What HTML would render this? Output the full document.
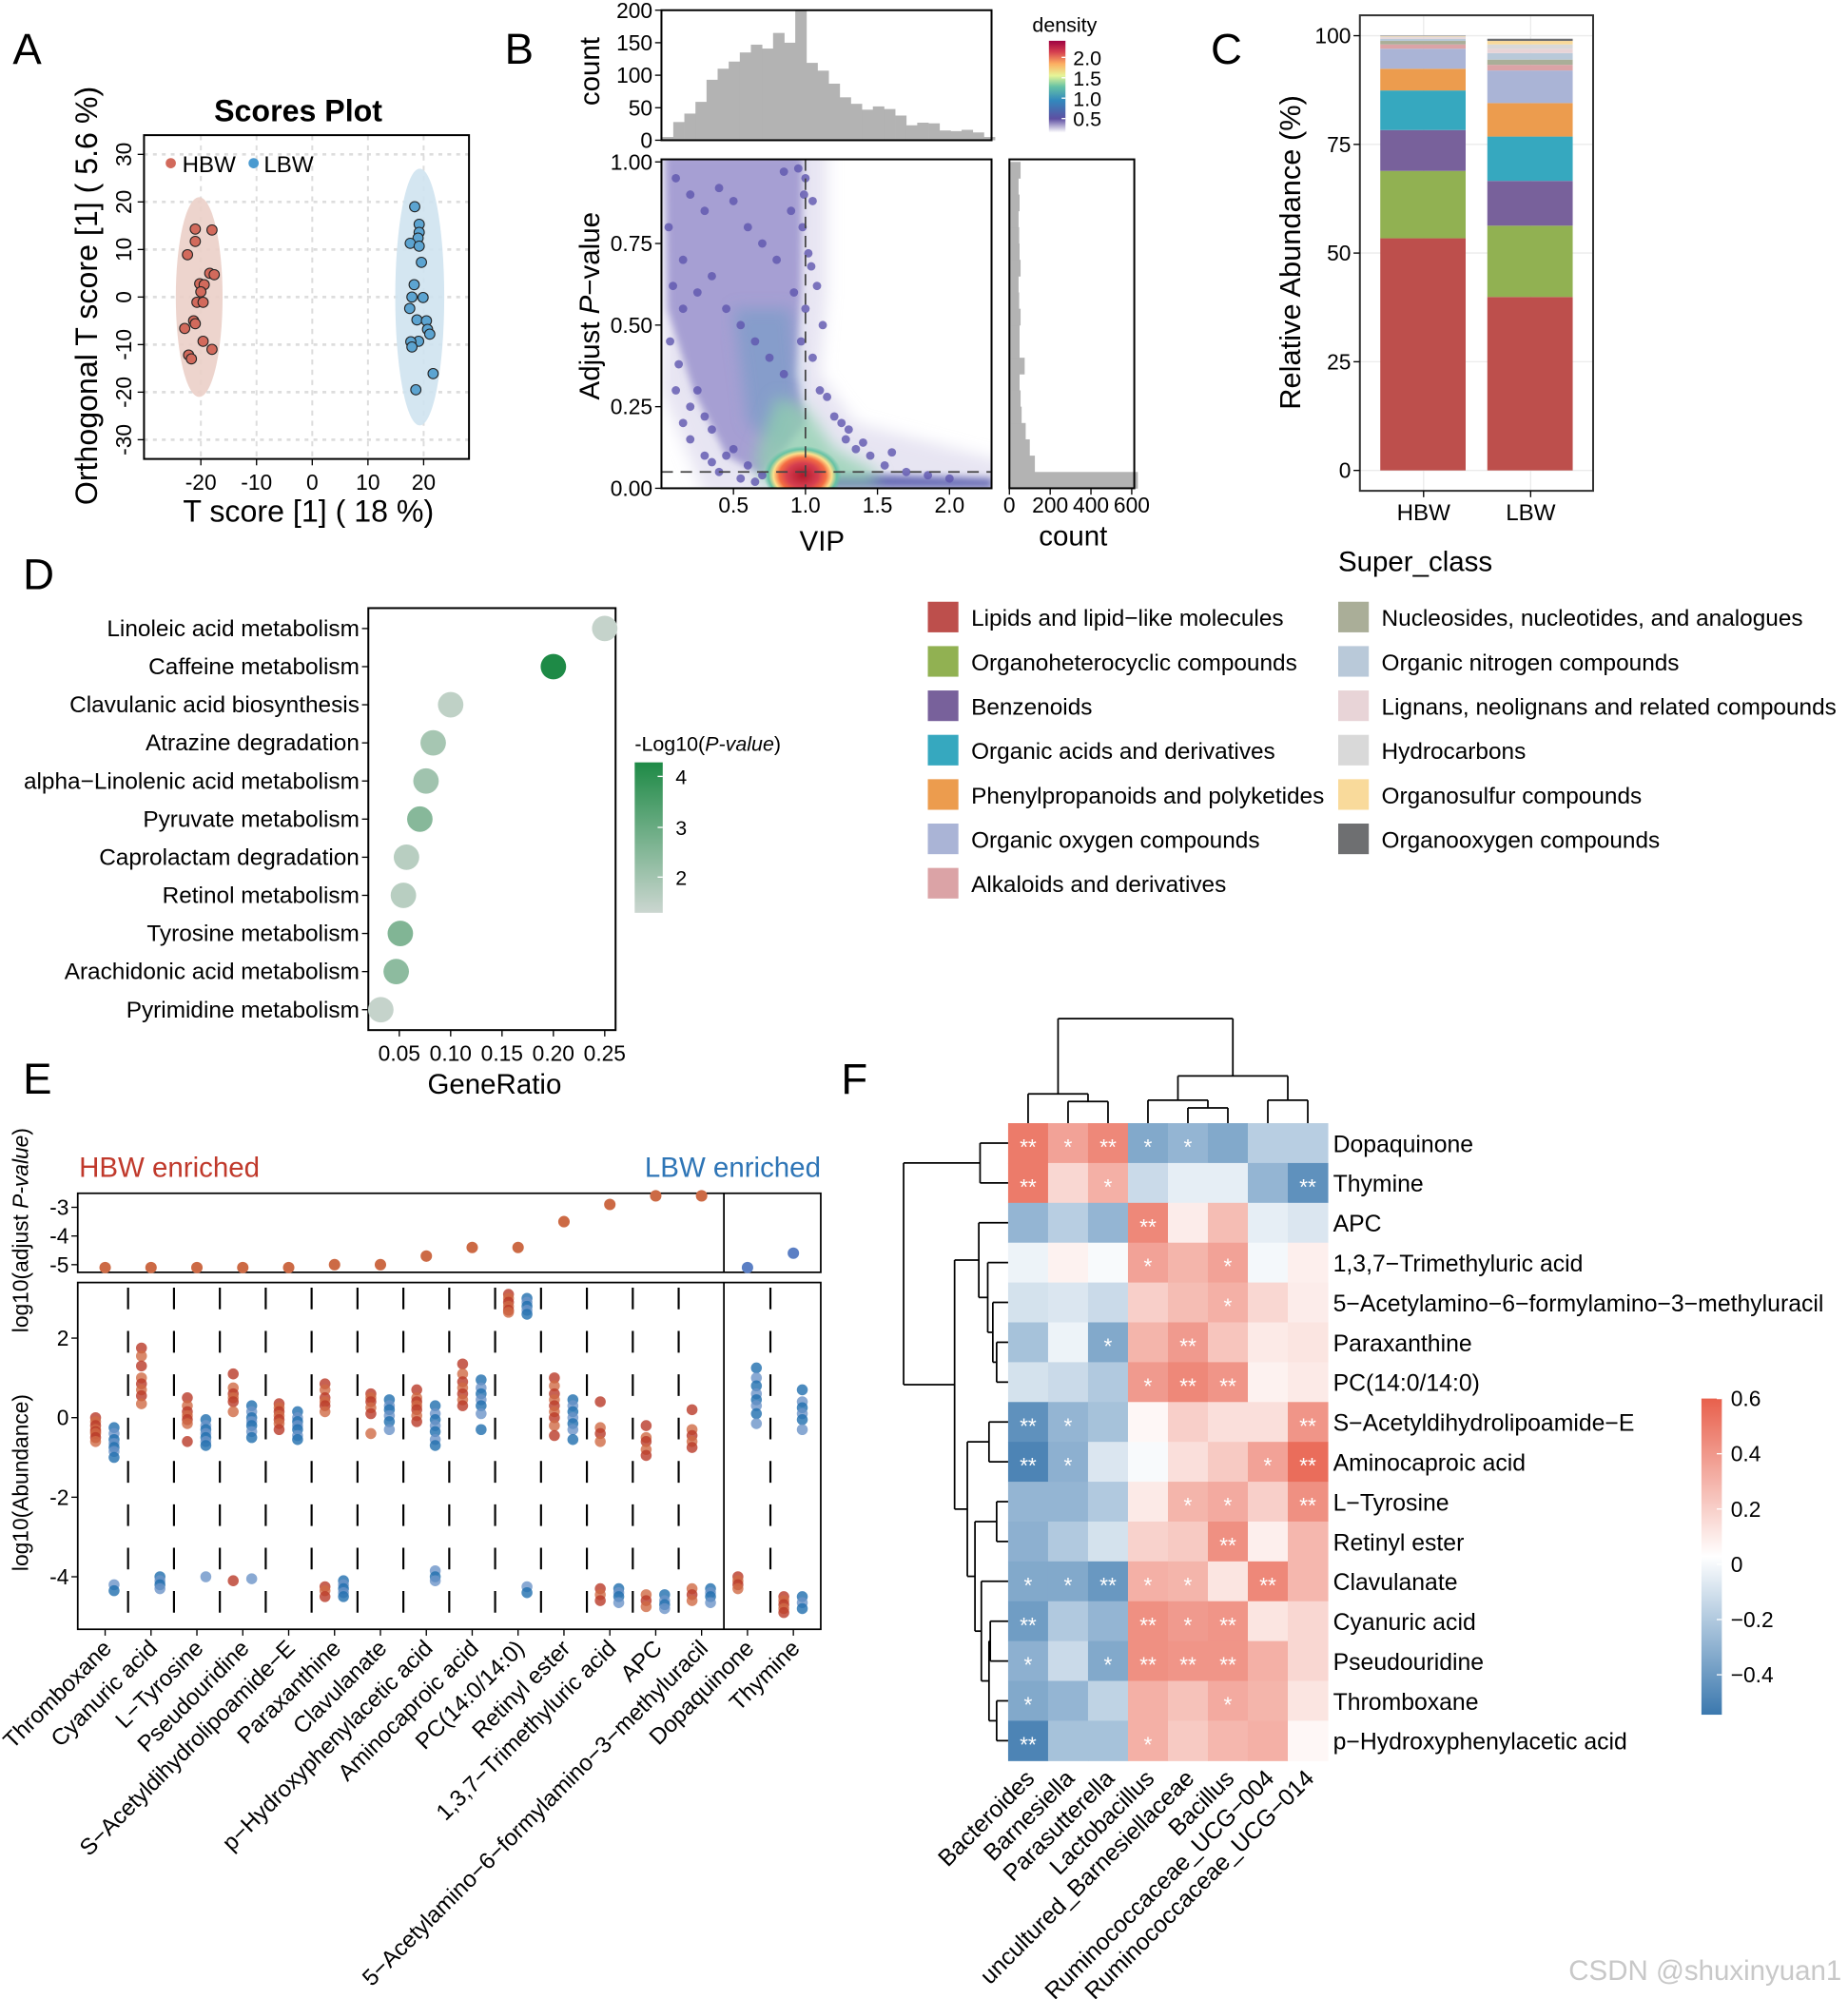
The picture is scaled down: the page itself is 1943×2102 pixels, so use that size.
<!DOCTYPE html>
<html><head><meta charset="utf-8">
<style>
html,body{margin:0;padding:0;background:#fff;}
svg{display:block;}
text{font-family:"Liberation Sans",Arial,sans-serif;}
</style></head>
<body>
<svg id="fig" xmlns="http://www.w3.org/2000/svg" width="1943" height="2102" viewBox="0 0 1450 1568" preserveAspectRatio="none">
<defs>
<filter id="blur6" x="-20%" y="-20%" width="140%" height="140%"><feGaussianBlur stdDeviation="6"/></filter>
<filter id="blur3"><feGaussianBlur stdDeviation="3"/></filter>
<linearGradient id="densGrad" x1="0" y1="1" x2="0" y2="0">
<stop offset="0" stop-color="#ffffff"/><stop offset="0.15" stop-color="#5E4FA2"/><stop offset="0.35" stop-color="#3288BD"/><stop offset="0.5" stop-color="#66C2A5"/><stop offset="0.62" stop-color="#E6F598"/><stop offset="0.75" stop-color="#FDAE61"/><stop offset="0.88" stop-color="#D53E4F"/><stop offset="1" stop-color="#9E0142"/></linearGradient>
<linearGradient id="goGrad" x1="0" y1="1" x2="0" y2="0"><stop offset="0" stop-color="#CBD6D0"/><stop offset="1" stop-color="#1E8A46"/></linearGradient>
<linearGradient id="corGrad" x1="0" y1="1" x2="0" y2="0"><stop offset="0" stop-color="#3B78AE"/><stop offset="0.5" stop-color="#ffffff"/><stop offset="1" stop-color="#E8604C"/></linearGradient>
<radialGradient id="hot" cx="0.5" cy="0.5" r="0.5">
<stop offset="0" stop-color="#B2182B"/><stop offset="0.4" stop-color="#D53E4F"/><stop offset="0.6" stop-color="#F46D43"/><stop offset="0.75" stop-color="#FEE08B"/><stop offset="0.88" stop-color="#66C2A5"/><stop offset="1" stop-color="#66C2A5" stop-opacity="0"/></radialGradient>
</defs>
<g id="root"></g>
</svg>
<script>
// ---------- DATA ----------
// Panel A
const hbwX=[-21,-18,-21,-22.4,-18.4,-17.6,-20.2,-19.4,-20,-20.7,-19.6,-21.3,-21,-22.9,-19.6,-18,-22.2,-21.7];
const hbwY=[14.3,14.1,11.7,8.9,5,4.7,2.8,2.6,1.1,-1.1,-1.1,-5,-5.6,-6.6,-9.3,-11,-12.2,-13];
const lbwX=[18.4,19.2,19.2,19,17.6,19.2,19.6,18.3,19.9,17.9,17.5,18.8,20.5,20.7,21.1,19.1,17.7,17.9,21.7,18.6];
const lbwY=[19,15.3,13.6,12.4,11.3,10.7,7.3,2.6,-0.1,0,-2.4,-4.8,-5,-6.8,-7.8,-9.3,-9.4,-10.5,-16.1,-19.5];
const aTicks=[-20,-10,0,10,20];
const aYTicks=[-30,-20,-10,0,10,20,30];
// Panel B
const vipHist=[5,28,41,59,93,110,121,135,147,141,165,150,200,119,107,87,66,56,47,52,48,38,23,27,26,15,14,16,12,5];
const pHist=[630,125,100,80,60,55,50,75,50,50,55,48,45,55,50,48,45,50,45,55];
const ptVip=[0.95,1.0,1.05,0.98,1.02,0.92,1.0,0.97,1.05,1.1,1.15,1.2,1.25,1.3,1.35,1.45,1.55,1.7,1.85,2.0,0.1,0.15,0.2,0.3,0.35,0.4,0.06,0.08,0.12,0.5,0.3,0.25,1.08,1.12,0.99,1.04,0.6,0.7,0.45,0.2,0.55,0.85,0.9,0.15,0.05,0.35,0.65,1.28,1.4,1.6,0.1,0.2,0.3,0.4,0.5,0.6,0.7,0.8,0.15,0.25,0.35,0.45,0.55,0.65,0.75,0.85];
const ptP=[0.98,0.95,0.88,0.8,0.72,0.6,0.55,0.45,0.4,0.3,0.28,0.22,0.2,0.18,0.12,0.1,0.07,0.05,0.04,0.03,0.3,0.2,0.15,0.1,0.08,0.05,0.45,0.62,0.38,0.12,0.22,0.3,0.62,0.5,0.9,0.68,0.07,0.04,0.1,0.25,0.03,0.97,0.85,0.55,0.8,0.18,0.02,0.15,0.14,0.11,0.95,0.9,0.85,0.92,0.88,0.8,0.75,0.7,0.7,0.6,0.65,0.55,0.5,0.45,0.4,0.35];
// Panel C
const classNames=["Lipids and lipid−like molecules","Organoheterocyclic compounds","Benzenoids","Organic acids and derivatives","Phenylpropanoids and polyketides","Organic oxygen compounds","Alkaloids and derivatives","Nucleosides, nucleotides, and analogues","Organic nitrogen compounds","Lignans, neolignans and related compounds","Hydrocarbons","Organosulfur compounds","Organooxygen compounds"];
const classColors=["#BD4F4C","#91B152","#78619B","#36A8BF","#EC9C4E","#AAB4D6","#DBA3A6","#AAAE98","#B9C9D9","#E8D4D7","#D9D9D9","#F9DA9B","#6E6F71"];
const hbwPct=[53.4,15.5,9.4,9.1,5,4.6,1,0.8,0.5,0.3,0.2,0.1,0.1];
const lbwPct=[39.9,16.4,10.3,10.2,7.7,7.5,1.3,1.2,1.5,1,1,0.8,0.5];
const cTicks=[0,25,50,75,100];
// Panel D
const pathways=["Linoleic acid metabolism","Caffeine metabolism","Clavulanic acid biosynthesis","Atrazine degradation","alpha−Linolenic acid metabolism","Pyruvate metabolism","Caprolactam degradation","Retinol metabolism","Tyrosine metabolism","Arachidonic acid metabolism","Pyrimidine metabolism"];
const geneRatio=[0.25,0.2,0.1,0.083,0.076,0.07,0.057,0.054,0.051,0.047,0.032];
const logP=[1.6,4.3,1.7,2.1,2.2,2.6,1.8,1.8,2.7,2.5,1.6];
const dTicks=[0.05,0.10,0.15,0.20,0.25];
// Panel E
const metabs=["Thromboxane","Cyanuric acid","L−Tyrosine","Pseudouridine","S−Acetyldihydrolipoamide−E","Paraxanthine","Clavulanate","p−Hydroxyphenylacetic acid","Aminocaproic acid","PC(14:0/14:0)","Retinyl ester","1,3,7−Trimethyluric acid","APC","5−Acetylamino−6−formylamino−3−methyluracil","Dopaquinone","Thymine"];
const adjP=[-5.1,-5.1,-5.1,-5.1,-5.1,-5,-5,-4.7,-4.4,-4.4,-3.5,-2.9,-2.6,-2.6,-5.1,-4.6];
const adjGroup=[0,0,0,0,0,0,0,0,0,0,0,0,0,0,1,1];
const redVals=[[0,-0.1,-0.2,-0.3,-0.35,-0.4,-0.5,-0.6],[1.75,1.55,1.3,1.0,0.85,0.7,0.55,0.35],[0.5,0.3,0.15,0.05,-0.05,-0.15,-0.6],[1.1,0.75,0.6,0.5,0.4,0.15,-4.1],[0.35,0.25,0.15,0.05,-0.05,-0.15,-0.3],[0.85,0.7,0.5,0.4,0.3,0.15,-4.25,-4.35,-4.5],[0.6,0.5,0.4,0.25,0.1,-0.4],[0.7,0.5,0.4,0.3,0.2,0.05,-0.1],[1.35,1.1,0.9,0.75,0.6,0.45,0.3],[3.1,3.0,2.9,2.8,2.7,2.65],[1.0,0.8,0.6,0.45,0.3,0.15,0,-0.2,-0.45],[0.4,-0.25,-0.4,-0.6,-4.3,-4.45,-4.6],[-0.2,-0.5,-0.6,-0.8,-0.95,-4.45,-4.6,-4.75],[0.2,-0.3,-0.45,-0.6,-0.75,-4.3,-4.45,-4.6],[-4.0,-4.1,-4.2,-4.3],[-4.5,-4.6,-4.7,-4.8,-4.9]];
const blueVals=[[-0.25,-0.4,-0.55,-0.65,-0.75,-0.85,-1.0,-4.2,-4.35],[-4.0,-4.1,-4.2,-4.3],[-0.05,-0.2,-0.3,-0.4,-0.5,-0.6,-0.7,-4.0],[0.3,0.15,0,-0.1,-0.2,-0.35,-0.5,-4.05],[0.15,0,-0.1,-0.2,-0.3,-0.45,-0.55],[-4.1,-4.2,-4.3,-4.4,-4.5],[0.45,0.3,0.2,0.05,-0.1,-0.3],[0.3,0.1,-0.05,-0.2,-0.35,-0.55,-0.7,-3.85,-4.0,-4.1],[0.95,0.75,0.6,0.45,0.3,0.1,-0.3],[3.0,2.9,2.8,2.7,2.6,-4.25,-4.4],[0.45,0.3,0.15,0,-0.15,-0.3,-0.55],[-4.3,-4.4,-4.5,-4.65],[-4.45,-4.6,-4.7,-4.8],[-4.3,-4.4,-4.5,-4.65],[1.25,1.0,0.8,0.6,0.45,0.3,0.1,-0.15],[0.7,0.4,0.25,0.1,-0.05,-0.3,-4.5,-4.65,-4.8]];
const eTopTicks=[-3,-4,-5];
const eBotTicks=[2,0,-2,-4];
// Panel F
const fRows=["Dopaquinone","Thymine","APC","1,3,7−Trimethyluric acid","5−Acetylamino−6−formylamino−3−methyluracil","Paraxanthine","PC(14:0/14:0)","S−Acetyldihydrolipoamide−E","Aminocaproic acid","L−Tyrosine","Retinyl ester","Clavulanate","Cyanuric acid","Pseudouridine","Thromboxane","p−Hydroxyphenylacetic acid"];
const fCols=["Bacteroides","Barnesiella","Parasutterella","Lactobacillus","uncultured_Barnesiellaceae","Bacillus","Ruminococcaceae_UCG−004","Ruminococcaceae_UCG−014"];
const corr=[[0.5,0.35,0.45,-0.35,-0.3,-0.35,-0.2,-0.2],[0.5,0.15,0.3,-0.15,-0.07,-0.07,-0.3,-0.45],[-0.3,-0.2,-0.3,0.45,0.07,0.25,-0.07,-0.1],[-0.05,0.05,-0.02,0.35,0.28,0.35,-0.03,0.06],[-0.12,-0.1,-0.15,0.18,0.25,0.3,0.15,0.07],[-0.25,-0.05,-0.35,0.28,0.38,0.22,0.08,0.1],[-0.12,-0.15,-0.22,0.38,0.45,0.4,0.05,0.08],[-0.45,-0.3,-0.25,0.03,0.18,0.12,0.12,0.4],[-0.5,-0.32,-0.1,-0.02,0.12,0.2,0.35,0.55],[-0.3,-0.3,-0.22,0.08,0.28,0.32,0.18,0.42],[-0.32,-0.22,-0.12,0.17,0.2,0.42,0.06,0.27],[-0.35,-0.35,-0.42,0.3,0.28,0.1,0.45,0.27],[-0.4,-0.22,-0.3,0.42,0.38,0.4,0.1,0.15],[-0.32,-0.15,-0.35,0.42,0.4,0.4,0.3,0.15],[-0.35,-0.3,-0.18,0.3,0.23,0.32,0.28,0.1],[-0.5,-0.25,-0.25,0.3,0.2,0.27,0.3,0.03]];
const stars=[["**","*","**","*","*","","",""],["**","","*","","","","","**"],["","","","**","","","",""],["","","","*","","*","",""],["","","","","","*","",""],["","","*","","**","","",""],["","","","*","**","**","",""],["**","*","","","","","","**"],["**","*","","","","","*","**"],["","","","","*","*","","**"],["","","","","","**","",""],["*","*","**","*","*","","**",""],["**","","","**","*","**","",""],["*","","*","**","**","**","",""],["*","","","","","*","",""],["**","","","*","","","",""]];
const corTicks=[0.6,0.4,0.2,0,-0.2,-0.4];

// ---------- helpers ----------
const NS="http://www.w3.org/2000/svg";
const root=document.getElementById('root');
function mk(tag,attrs,parent,txt){const e=document.createElementNS(NS,tag);for(const k in attrs)e.setAttribute(k,attrs[k]);if(txt!==undefined)e.textContent=txt;(parent||root).appendChild(e);return e;}
function grp(name){const g=mk('g',{});return g;}
function T(g,x,y,s,size,opt){opt=opt||{};const a={x:x,y:y,'font-size':size,fill:opt.fill||'#000'};if(opt.anchor)a['text-anchor']=opt.anchor;if(opt.rot!==undefined)a.transform=`rotate(${opt.rot} ${x} ${y})`;if(opt.weight)a['font-weight']=opt.weight;if(opt.style)a['font-style']=opt.style;const t=mk('text',a,g,s);return t;}
function L(g,x1,y1,x2,y2,st,w,dash){const a={x1:x1,y1:y1,x2:x2,y2:y2,stroke:st||'#000','stroke-width':w||1};if(dash)a['stroke-dasharray']=dash;return mk('line',a,g);}
function R(g,x,y,w,h,fill,stroke,sw){return mk('rect',{x:x,y:y,width:w,height:h,fill:fill||'none',stroke:stroke||'none','stroke-width':sw||1},g);}
function lerpC(a,b,t){const p=s=>[1,3,5].map(i=>parseInt(s.substr(i,2),16));const A=p(a),B=p(b);return 'rgb('+A.map((v,i)=>Math.round(v+(B[i]-v)*t)).join(',')+')';}

// ---------- Panel labels ----------
const pl=grp('panel-labels');
[["A",10,50],["B",396,50],["C",950,50],["D",18,462],["E",18,858],["F",660,858]].forEach(d=>T(pl,d[1],d[2],d[0],34,{name:'panel-label-'+d[0]}));

// ---------- Panel A ----------
(function(){
const g=grp('panel-a-scores-plot');
const xA=v=>245+v*4.37, yA=v=>233-v*3.73;
T(g,234,95,"Scores Plot",24,{anchor:'middle',weight:'bold',name:'a-title'});
aTicks.forEach(v=>L(g,xA(v),106,xA(v),360,'#ddd',1.5,'4,4'));
aYTicks.forEach(v=>L(g,113,yA(v),368,yA(v),'#ddd',2,'3,4'));
mk('ellipse',{cx:xA(-20.3),cy:yA(0),rx:4.2*4.37,ry:21*3.73,fill:'#EBCFC8','fill-opacity':0.9},g);
mk('ellipse',{cx:xA(19.3),cy:yA(0),rx:4.4*4.37,ry:27*3.73,fill:'#CFE3F0','fill-opacity':0.9},g);
hbwX.forEach((x,i)=>{const c=mk('circle',{cx:xA(x),cy:yA(hbwY[i]),r:4,fill:'#D26A5C',stroke:'#222','stroke-width':0.8},g);});
lbwX.forEach((x,i)=>{const c=mk('circle',{cx:xA(x),cy:yA(lbwY[i]),r:4,fill:'#5CA4D1',stroke:'#222','stroke-width':0.8},g);});
R(g,113,106,255,254,'none','#000',1.5);
aTicks.forEach(v=>{L(g,xA(v),360,xA(v),365);T(g,xA(v),384,String(v),17,{anchor:'middle',name:'a-x-tick'});});
aYTicks.forEach(v=>{L(g,108,yA(v),113,yA(v));T(g,103,yA(v),String(v),17,{anchor:'middle',rot:-90,name:'a-y-tick'});});
mk('circle',{cx:134,cy:128,r:4,fill:'#D26A5C'},g);T(g,143,135,"HBW",18,{name:'legend-hbw'});
mk('circle',{cx:199,cy:128,r:4,fill:'#4A9AD0'},g);T(g,207,135,"LBW",18,{name:'legend-lbw'});
T(g,242,409,"T score [1] ( 18 %)",24,{anchor:'middle',name:'a-x-title'});
T(g,76,232,"Orthogonal T score [1] ( 5.6 %)",24,{anchor:'middle',rot:-90,name:'a-y-title'});
})();

// ---------- Panel B ----------
(function(){
const g=grp('panel-b-vip-volcano');
const xB=v=>519+v*113, yB=p=>383-p*256, yH=c=>110-c*0.51, xR=c=>792+c*0.16;
const bw=0.077, b0=0.005;
vipHist.forEach((c,i)=>{const r=R(g,xB(b0+i*bw),yH(c),bw*113+0.3,110-yH(c),'#B3B3B3');});
R(g,519,8,259,102,'none','#000',1.5);
[0,50,100,150,200].forEach(v=>{L(g,514,yH(v),519,yH(v));T(g,512,yH(v)+6,String(v),17,{anchor:'end',name:'top-hist-tick'});});
T(g,470,56,"count",22,{anchor:'middle',rot:-90,name:'top-hist-y-title'});
const clip=mk('clipPath',{id:'bclip'},g);R(clip,519,125,259,258,'#fff');
const dg=mk('g',{'clip-path':'url(#bclip)'},g);
const poly=(pts,fill,op,filt)=>mk('polygon',{points:pts.map(p=>xB(p[0])+','+yB(p[1])).join(' '),fill:fill,'fill-opacity':op,filter:filt?'url(#'+filt+')':''},dg);
poly([[0,1.05],[1.15,1.05],[1.15,0.6],[1.1,0.35],[1.35,0.2],[2.4,0.08],[2.4,-0.02],[0.3,-0.02],[0,0.3]],'#C9C5E3',0.45,'blur6');
poly([[0.02,1.02],[0.98,1.02],[0.97,0.6],[0.93,0.35],[1.0,0.2],[0.7,0.04],[0.45,0.1],[0.22,0.3],[0.04,0.55]],'#7A72BE',0.6,'blur3');
poly([[0.5,0.55],[0.9,0.55],[0.95,0.3],[0.85,0.12],[0.6,0.2]],'#5F98C2',0.45,'blur6');
poly([[0.9,0.05],[2.3,0.03],[2.3,0.0],[0.9,0.0]],'#4A4FA8',0.8,'blur3');
poly([[0.8,0.28],[1.0,0.25],[1.2,0.12],[1.5,0.05],[1.5,0.01],[0.7,0.01],[0.65,0.1]],'#8FD0AE',0.75,'blur6');
mk('ellipse',{cx:xB(0.98),cy:yB(0.04),rx:0.27*113,ry:0.09*256,fill:'url(#hot)'},dg);
ptVip.forEach((v,i)=>{const c=mk('circle',{cx:xB(v),cy:yB(ptP[i]),r:3.3,fill:'#5E55AE','fill-opacity':0.8},dg);});
L(g,xB(1.0),125,xB(1.0),383,'#444',1.3,'9,6');
L(g,519,yB(0.05),778,yB(0.05),'#444',1.3,'9,6');
R(g,519,125,259,258,'none','#000',1.5);
[0.5,1.0,1.5,2.0].forEach(v=>{L(g,xB(v),383,xB(v),388);T(g,xB(v),402,v.toFixed(1),17,{anchor:'middle',name:'vip-tick'});});
[0,0.25,0.5,0.75,1].forEach(v=>{L(g,514,yB(v),519,yB(v));T(g,512,yB(v)+6,v.toFixed(2),17,{anchor:'end',name:'padj-tick'});});
T(g,645,432,"VIP",22,{anchor:'middle',name:'vip-title'});
const yt=T(g,470,240,"",22,{anchor:'middle',rot:-90,name:'padj-title'});
yt.innerHTML='Adjust <tspan font-style="italic">P</tspan>−value';
pHist.forEach((c,i)=>{const r=R(g,792,yB((i+1)*0.05),xR(c)-792,0.05*256+0.3,'#B3B3B3');});
R(g,792,125,98,258,'none','#000',1.5);
[0,200,400,600].forEach(v=>{L(g,xR(v),383,xR(v),388);T(g,xR(v),402,String(v),17,{anchor:'middle',name:'right-hist-tick'});});
T(g,842,428,"count",22,{anchor:'middle',name:'right-hist-title'});
T(g,810,25,"density",16,{name:'density-legend-title'});
R(g,823,32,13,72,'url(#densGrad)');
[[2.0,45],[1.5,61],[1.0,77],[0.5,93]].forEach(d=>{L(g,833,d[1],836,d[1],'#fff');T(g,842,d[1]+6,d[0].toFixed(1),16,{name:'density-tick'});});
})();

// ---------- Panel C ----------
(function(){
const g=grp('panel-c-superclass-bars');
const yC=v=>369-v*3.41;
R(g,1067,12,183,373,'#fff','none');
cTicks.forEach(v=>L(g,1067,yC(v),1250,yC(v),'#EBEBEB',1));
[1117,1201].forEach(x=>L(g,x,12,x,385,'#EBEBEB',1));
[[hbwPct,1083,'hbw'],[lbwPct,1167,'lbw']].forEach(s=>{let acc=0;s[0].forEach((p,i)=>{const r=R(g,s[1],yC(acc+p),67,p*3.41,classColors[i]);acc+=p;});});
R(g,1067,12,183,373,'none','#333',1.5);
cTicks.forEach(v=>{L(g,1062,yC(v),1067,yC(v));T(g,1060,yC(v)+6,String(v),17,{anchor:'end',name:'c-y-tick'});});
[["HBW",1117],["LBW",1201]].forEach(d=>{L(g,d[1],385,d[1],390);T(g,d[1],408,d[0],18,{anchor:'middle',name:'c-x-tick'});});
T(g,1020,198,"Relative Abundance (%)",23,{anchor:'middle',rot:-90,name:'c-y-title'});
T(g,1050,448,"Super_class",22,{name:'legend-title'});
classNames.forEach((n,i)=>{const col=i<7?0:1, row=i<7?i:i-7;const x=col?1050:728, y=472+row*34.8;R(g,x,y,24,24,classColors[i]);T(g,x+34,y+19,n,18.2,{name:'legend-entry'});});
})();

// ---------- Panel D ----------
(function(){
const g=grp('panel-d-kegg-dotplot');
const xD=v=>273+v*806, yD=i=>493+i*29.9;
R(g,289,477,194,331,'none','#000',1.5);
pathways.forEach((p,i)=>{L(g,284,yD(i),289,yD(i));T(g,282,yD(i)+6,p,18.2,{anchor:'end',name:'pathway-label'});});
pathways.forEach((p,i)=>{const t=(logP[i]-1.5)/(4.3-1.5);const c=mk('circle',{cx:xD(geneRatio[i]),cy:yD(i),r:10,fill:lerpC('#CBD6D0','#1E8A46',Math.max(0,Math.min(1,t)))},g);});
dTicks.forEach(v=>{L(g,xD(v),808,xD(v),813);T(g,xD(v),832,v.toFixed(2),17,{anchor:'middle',name:'d-x-tick'});});
T(g,388,858,"GeneRatio",22,{anchor:'middle',name:'d-x-title'});
const ct=T(g,498,589,"",16,{name:'d-legend-title'});ct.innerHTML='-Log10(<tspan font-style="italic">P-value</tspan>)';
R(g,498,598,22,118,'url(#goGrad)');
[[4,609],[3,649],[2,688]].forEach(d=>{L(g,516,d[1],520,d[1],'#fff');T(g,530,d[1]+6,String(d[0]),16,{name:'d-legend-tick'});});
})();

// ---------- Panel E ----------
(function(){
const g=grp('panel-e-abundance');
const xE=i=>82.5+36*i, yT=v=>947+(-3-v)*22.5, yBt=v=>1112-v*31.2;
T(g,62,923,"HBW enriched",22,{fill:'#C0392B',name:'hbw-enriched-title'});
T(g,644,923,"LBW enriched",22,{anchor:'end',fill:'#2E75B6',name:'lbw-enriched-title'});
R(g,61,936,583,62,'none','#000',1.3);L(g,568,936,568,998,'#000',1.3);
eTopTicks.forEach(v=>{L(g,56,yT(v),61,yT(v));T(g,54,yT(v)+6,String(v),17,{anchor:'end',name:'e-top-tick'});});
adjP.forEach((v,i)=>{const c=mk('circle',{cx:xE(i),cy:yT(v),r:4.5,fill:adjGroup[i]?'#5B7FC4':'#CC6A45'},g);});
R(g,61,1006,583,272,'none','#000',1.3);L(g,568,1006,568,1278,'#000',1.3);
for(let i=0;i<15;i++){if(i===13)continue;L(g,xE(i)+18,1010,xE(i)+18,1276,'#000',1.6,'17,17');}
eBotTicks.forEach(v=>{L(g,56,yBt(v),61,yBt(v));T(g,54,yBt(v)+6,String(v),17,{anchor:'end',name:'e-bottom-tick'});});
redVals.forEach((arr,i)=>arr.forEach((v,k)=>{const c=mk('circle',{cx:xE(i)-7.5,cy:yBt(v),r:4.3,fill:k%2?'#D06A45':'#B93A28','fill-opacity':0.8},g);}));
blueVals.forEach((arr,i)=>arr.forEach((v,k)=>{const c=mk('circle',{cx:xE(i)+7,cy:yBt(v),r:4.3,fill:k%2?'#6B93C8':'#1F6EAE','fill-opacity':0.8},g);}));
metabs.forEach((m,i)=>{L(g,xE(i),1278,xE(i),1283);T(g,xE(i)+6,1294,m,18,{anchor:'end',rot:-45,name:'e-x-label'});});
const t1=T(g,22,965,"",17,{anchor:'middle',rot:-90,name:'e-top-y-title'});t1.innerHTML='log10(adjust <tspan font-style="italic">P-value</tspan>)';
T(g,22,1163,"log10(Abundance)",17,{anchor:'middle',rot:-90,name:'e-bottom-y-title'});
})();

// ---------- Panel F ----------
(function(){
const g=grp('panel-f-correlation-heatmap');
const x0=791,y0=881,cw=31.35,ch=31.25;
const cx=j=>x0+cw*(j+0.5), cy=i=>y0+ch*(i+0.5);
const col=v=>v>=0?lerpC('#ffffff','#E8604C',Math.min(1,v/0.6)):lerpC('#ffffff','#3B78AE',Math.min(1,-v/0.55));
corr.forEach((row,i)=>row.forEach((v,j)=>{const r=R(g,x0+cw*j,y0+ch*i,cw+0.4,ch+0.4,col(v));if(stars[i][j])T(g,cx(j),cy(i)+9,stars[i][j],17,{anchor:'middle',fill:'#fff',name:'significance-star'});}));
fRows.forEach((n,i)=>T(g,1046,cy(i)+7,n,18.5,{name:'row-label'}));
fCols.forEach((n,j)=>T(g,cx(j)+6,1396,n,18.5,{anchor:'end',rot:-45,name:'col-label'}));
const dg=mk('g',{fill:'none',stroke:'#000','stroke-width':1.3},g);
function drawTree(node,leafPos,edge,horiz){
 if(typeof node==='number')return [leafPos(node),edge];
 const a=drawTree(node[0],leafPos,edge,horiz),b=drawTree(node[1],leafPos,edge,horiz),h=node[2];
 const seg=(p1,q1,p2,q2)=>horiz?mk('line',{x1:q1,y1:p1,x2:q2,y2:p2},dg):mk('line',{x1:p1,y1:q1,x2:p2,y2:q2},dg);
 seg(a[0],a[1],a[0],h);seg(b[0],b[1],b[0],h);seg(a[0],h,b[0],h);
 return [(a[0]+b[0])/2,h];
}
const rowTree=[[0,1,769],[[2,[3,[4,[5,6,782],779],775],768],[[7,8,776],[[9,10,782],[11,[[12,13,777],[14,15,782],776],770],765],759],749],709];
drawTree(rowTree,cy,x0,true);
const colTree=[[0,[1,2,864],858],[[3,[4,5,869],863],[6,7,863],844],799];
drawTree(colTree,cx,y0,false);
R(g,1335,1097,16,248,'url(#corGrad)');
corTicks.forEach(v=>{const y=1227-v*216.7;L(g,1347,y,1351,y,'#fff');T(g,1358,y+6,v===0?'0':(v<0?'−':'')+Math.abs(v).toFixed(1),17,{name:'corr-legend-tick'});});
})();
T(root,1445,1553,"CSDN @shuxinyuan1",22,{anchor:'end',fill:'#C8C8C8',name:'watermark'});
</script>
</body></html>
